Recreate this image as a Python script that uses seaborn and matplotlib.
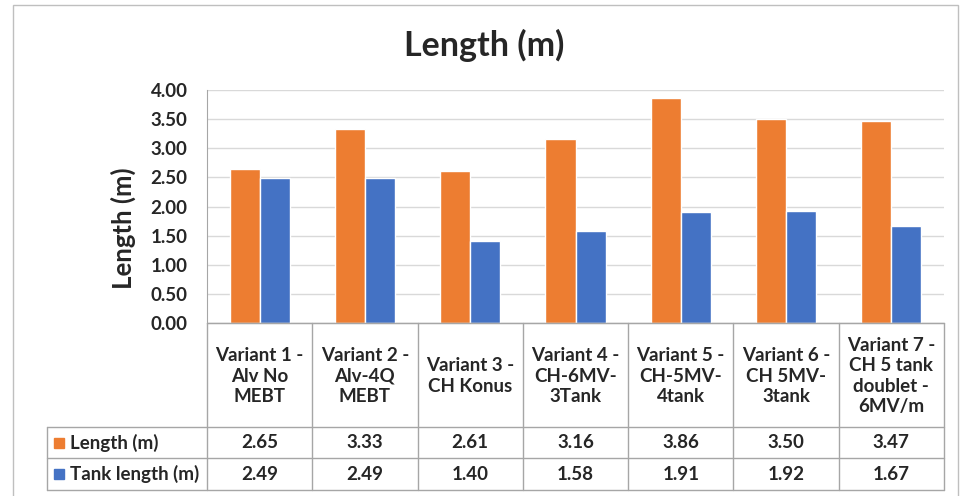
import pandas as pd
import matplotlib.pyplot as plt
import matplotlib.transforms as mtransforms
from matplotlib.patches import Rectangle
import seaborn as sns

variants = ['Variant 1 -\nAlv No\nMEBT', 'Variant 2 -\nAlv-4Q\nMEBT', 'Variant 3 -\nCH Konus',
            'Variant 4 -\nCH-6MV-\n3Tank', 'Variant 5 -\nCH-5MV-\n4tank', 'Variant 6 -\nCH 5MV-\n3tank',
            'Variant 7 -\nCH 5 tank\ndoublet -\n6MV/m']
length = [2.65, 3.33, 2.61, 3.16, 3.86, 3.50, 3.47]
tank_length = [2.49, 2.49, 1.40, 1.58, 1.91, 1.92, 1.67]
series = ['Length (m)', 'Tank length (m)']
colors = ['#ED7D31', '#4472C4']
yticks = [0, 0.5, 1, 1.5, 2, 2.5, 3, 3.5, 4]

df = pd.DataFrame({'variant': variants * 2,
                   'series': [series[0]] * 7 + [series[1]] * 7,
                   'value': length + tank_length})

sns.set_style('white')
plt.rcParams['font.family'] = ['Lato', 'DejaVu Sans']
plt.rcParams['font.weight'] = 'bold'
fs = 13.5

W, H = 969, 496
fig = plt.figure(figsize=(W / 100, H / 100), dpi=100)
# plot area in pixels
x0, x1, y0, y1 = 207, 944, 90, 323
ax = fig.add_axes([x0 / W, 1 - y1 / H, (x1 - x0) / W, (y1 - y0) / H])

sns.barplot(data=df, x='variant', y='value', hue='series', order=variants,
            hue_order=series, palette=colors, width=0.57, gap=0, saturation=1,
            legend=False, ax=ax)

ax.set_ylim(0, 4)
ax.set_xlim(-0.5, 6.5)
ax.set_yticks(yticks)
ax.set_yticklabels([f'{t:.2f}' for t in yticks], fontsize=fs, fontweight='bold')
ax.tick_params(axis='y', length=0, pad=14)
ax.set_xticks([])
ax.set(xlabel='', ylabel='')
ax.yaxis.grid(True, color='#D9D9D9', lw=1)
ax.set_axisbelow(True)
for s in ['top', 'right']:
    ax.spines[s].set_visible(False)
ax.spines['left'].set_color('#A6A6A6')
ax.spines['bottom'].set_color('#A6A6A6')

fig.text(0.5, 1 - 45 / H, 'Length (m)', ha='center', va='center', fontsize=24.5, fontweight='bold')
fig.text(123 / W, 1 - 228 / H, 'Length (m)', ha='center', va='center', rotation=90,
         fontsize=18.5, fontweight='bold')

# data table below the axis
def fy(ypx):
    return (y1 - ypx) / (y1 - y0)

def fx(xpx):
    return (xpx - x0) / (x1 - x0)

tr = mtransforms.blended_transform_factory(ax.transData, ax.transAxes)
ta = ax.transAxes
lc = '#A6A6A6'
r0, r1, r2 = 427, 458, 490
lab_x = fx(47)

# horizontal lines
for yy in [r0, r1, r2]:
    ax.plot([lab_x, 1], [fy(yy), fy(yy)], transform=ta, color=lc, lw=1, clip_on=False)
ax.plot([0, 1], [fy(y1), fy(y1)], transform=ta, color=lc, lw=1, clip_on=False)
# vertical lines
for i in range(8):
    ax.plot([i - 0.5, i - 0.5], [fy(y1), fy(r2)], transform=tr, color=lc, lw=1, clip_on=False)
ax.plot([lab_x, lab_x], [fy(r0), fy(r2)], transform=ta, color=lc, lw=1, clip_on=False)

for i, v in enumerate(variants):
    ax.text(i, fy((y1 + r0) / 2 + 1), v, transform=tr, ha='center', va='center',
            fontsize=fs, fontweight='bold', linespacing=1.25)
    ax.text(i, fy((r0 + r1) / 2), f'{length[i]:.2f}', transform=tr, ha='center', va='center',
            fontsize=fs, fontweight='bold')
    ax.text(i, fy((r1 + r2) / 2), f'{tank_length[i]:.2f}', transform=tr, ha='center', va='center',
            fontsize=fs, fontweight='bold')

for k, (name, c) in enumerate(zip(series, colors)):
    yc = [(r0 + r1) / 2, (r1 + r2) / 2][k]
    fig.patches.append(Rectangle((54 / W, 1 - (yc + 5) / H), 10 / W, 10 / H,
                                 transform=fig.transFigure, color=c))
    fig.text(70 / W, 1 - yc / H, name, ha='left', va='center', fontsize=fs, fontweight='bold')

# chart border
fig.patches.append(Rectangle((13 / W, -0.02), (958 - 13) / W, 1 - 5 / H + 0.02,
                             transform=fig.transFigure, fill=False, edgecolor='#BFBFBF', lw=1))

plt.savefig('out.png', dpi=100)
